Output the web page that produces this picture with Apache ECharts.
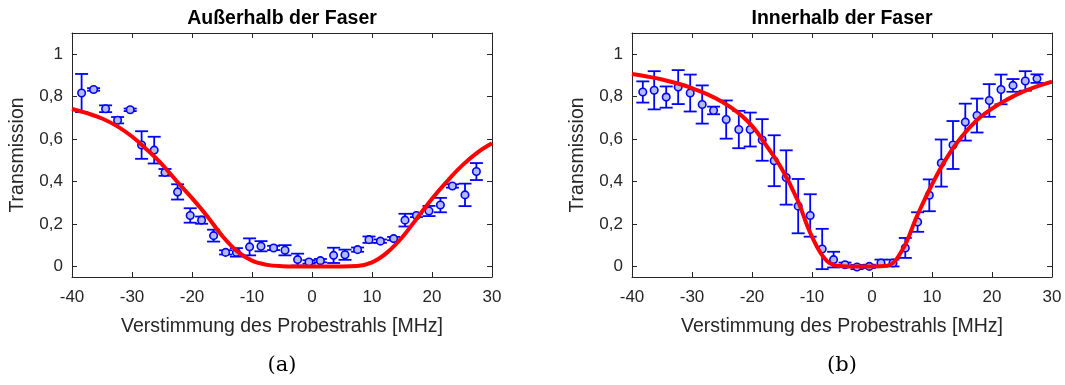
<!DOCTYPE html>
<html>
<head>
<meta charset="utf-8">
<script src="https://cdn.jsdelivr.net/npm/echarts@6/dist/echarts.min.js"></script>
<style>html,body{margin:0;padding:0;background:#fff}#c{width:1065px;height:385px}</style>
</head>
<body>
<div id="c"></div>
<script>
// ---- Data ----
const xTicks = [-40, -30, -20, -10, 0, 10, 20, 30];
const yTicks = [0, 0.2, 0.4, 0.6, 0.8, 1];

const leftTitle = 'Außerhalb der Faser';
const rightTitle = 'Innerhalb der Faser';
const xName = 'Verstimmung des Probestrahls [MHz]';
const yName = 'Transmission';
const captions = ['(a)', '(b)'];

const leftX = [-38.4,-36.4,-34.4,-32.4,-30.3,-28.4,-26.3,-24.5,-22.4,-20.3,-18.4,-16.4,-14.4,-12.6,-10.4,-8.5,-6.4,-4.5,-2.4,-0.5,1.4,3.6,5.5,7.6,9.5,11.4,13.6,15.5,17.4,19.5,21.4,23.4,25.5,27.4];
const leftY = [0.817,0.834,0.743,0.689,0.738,0.572,0.548,0.443,0.351,0.240,0.218,0.145,0.066,0.066,0.092,0.095,0.087,0.076,0.032,0.021,0.027,0.052,0.055,0.079,0.126,0.119,0.131,0.218,0.240,0.261,0.289,0.379,0.337,0.447];
const leftErr = [0.09,0.006,0.016,0.015,0.006,0.065,0.063,0.016,0.036,0.034,0.017,0.028,0.01,0.02,0.04,0.024,0.01,0.024,0.028,0.008,0.008,0.036,0.024,0.01,0.015,0.008,0.008,0.03,0.008,0.024,0.034,0.008,0.053,0.04];

const rightX = [-38.2,-36.3,-34.3,-32.3,-30.3,-28.3,-26.4,-24.3,-22.2,-20.3,-18.3,-16.3,-14.3,-12.3,-10.3,-8.3,-6.4,-4.5,-2.5,-0.45,1.5,3.5,5.55,7.6,9.55,11.55,13.5,15.55,17.5,19.55,21.5,23.5,25.55,27.5];
const rightY = [0.822,0.83,0.798,0.845,0.817,0.763,0.735,0.692,0.645,0.645,0.596,0.498,0.419,0.284,0.24,0.082,0.032,0.008,-0.003,0.0,0.016,0.016,0.087,0.209,0.335,0.487,0.572,0.68,0.711,0.782,0.834,0.853,0.874,0.885];
const rightErr = [0.05,0.09,0.05,0.08,0.087,0.09,0.018,0.09,0.088,0.08,0.098,0.12,0.128,0.128,0.1,0.095,0.037,0.01,0.01,0.008,0.016,0.016,0.047,0.046,0.075,0.111,0.113,0.087,0.08,0.077,0.07,0.03,0.046,0.02];

// fitted curves, every 2.5 MHz
const fitX = [-40,-37.5,-35,-32.5,-30,-27.5,-25,-22.5,-20,-17.5,-15,-12.5,-10,-7.5,-5,-2.5,0,2.5,5,7.5,10,12.5,15,17.5,20,22.5,25,27.5,30];
const leftFitY = [0.742,0.722,0.697,0.661,0.612,0.550,0.481,0.400,0.322,0.238,0.145,0.072,0.027,0.007,0.001,0,0,0,0,0.002,0.019,0.065,0.136,0.227,0.319,0.401,0.475,0.535,0.58];
const rightFitY = [0.907,0.895,0.881,0.863,0.840,0.812,0.776,0.728,0.662,0.565,0.458,0.318,0.14,0.025,0.001,0,0,0.003,0.075,0.237,0.386,0.514,0.613,0.69,0.744,0.786,0.821,0.848,0.871];

// ---- Chart ----
const chart = echarts.init(document.getElementById('c'), null, {renderer: 'canvas'});
const AX = '#262626';
const FONT = '"Liberation Sans", Arial, sans-serif';
const grids = [
  {left: 72, right: 573, top: 33, bottom: 108},
  {left: 632, right: 13, top: 33, bottom: 108}
];

function xAxisDef(gi, pos) {
  const main = pos === 'bottom';
  return {
    type: 'value', gridIndex: gi, position: pos, min: -40, max: 30, interval: 10,
    axisLine: {show: true, onZero: false, lineStyle: {color: AX, width: 1}},
    axisTick: {show: true, inside: true, length: 5, customValues: xTicks, lineStyle: {color: AX, width: 1}},
    axisLabel: {show: main, customValues: xTicks, color: AX, fontSize: 17, fontFamily: FONT, margin: 12},
    splitLine: {show: false},
    name: main ? xName : '', nameLocation: 'middle', nameGap: 40,
    nameTextStyle: {color: AX, fontSize: 19.5, fontFamily: FONT}
  };
}
function yAxisDef(gi, pos) {
  const main = pos === 'left';
  return {
    type: 'value', gridIndex: gi, position: pos, min: -0.05, max: 1.1,
    axisLine: {show: true, onZero: false, lineStyle: {color: AX, width: 1}},
    axisTick: {show: true, inside: true, length: 5, customValues: yTicks, lineStyle: {color: AX, width: 1}},
    axisLabel: {show: main, customValues: yTicks, color: AX, fontSize: 17, fontFamily: FONT, margin: 9,
      formatter: v => String(Math.round(v * 10) / 10).replace('.', ',')},
    splitLine: {show: false},
    name: main ? yName : '', nameLocation: 'middle', nameGap: 44,
    nameTextStyle: {color: AX, fontSize: 19.5, fontFamily: FONT}
  };
}

function errRender(params, api) {
  const x = api.value(0), y = api.value(1), e = api.value(2);
  const t = api.coord([x, y + e]);
  const b = api.coord([x, y - e]);
  const cw = 6.5;
  const st = {stroke: '#0000ff', lineWidth: 1.8, fill: null};
  return {type: 'group', children: [
    {type: 'line', shape: {x1: t[0], y1: t[1], x2: b[0], y2: b[1]}, style: st},
    {type: 'line', shape: {x1: t[0] - cw, y1: t[1], x2: t[0] + cw, y2: t[1]}, style: st},
    {type: 'line', shape: {x1: b[0] - cw, y1: b[1], x2: b[0] + cw, y2: b[1]}, style: st}
  ]};
}

function seriesFor(ai, xs, ys, es, fx, fy) {
  return [
    {type: 'custom', xAxisIndex: ai, yAxisIndex: ai, renderItem: errRender, z: 2,
      encode: {x: 0, y: 1}, data: xs.map((x, i) => [x, ys[i], es[i]]), silent: true},
    {type: 'scatter', xAxisIndex: ai, yAxisIndex: ai, z: 3, symbol: 'circle', symbolSize: 7.5,
      itemStyle: {color: '#b4bced', borderColor: '#0000ff', borderWidth: 1.6, opacity: 1},
      data: xs.map((x, i) => [x, ys[i]]), silent: true},
    {type: 'line', xAxisIndex: ai, yAxisIndex: ai, z: 4, showSymbol: false, smooth: 0.4,
      lineStyle: {color: '#ff0000', width: 4}, silent: true,
      data: fx.map((x, i) => [x, fy[i]])}
  ];
}

const centers = [72 + (492 - 72) / 2, 632 + (1052 - 632) / 2];
const titleFont = 'bold 19.5px ' + FONT;
const capFont = '21px "DejaVu Serif", "Liberation Serif", serif';

const option = {
  animation: false,
  backgroundColor: '#ffffff',
  grid: grids,
  xAxis: [xAxisDef(0, 'bottom'), xAxisDef(0, 'top'), xAxisDef(1, 'bottom'), xAxisDef(1, 'top')],
  yAxis: [yAxisDef(0, 'left'), yAxisDef(0, 'right'), yAxisDef(1, 'left'), yAxisDef(1, 'right')],
  series: [
    ...seriesFor(0, leftX, leftY, leftErr, fitX, leftFitY),
    ...seriesFor(2, rightX, rightY, rightErr, fitX, rightFitY)
  ],
  graphic: [
    {type: 'text', silent: true, style: {x: centers[0], y: 19, text: leftTitle, textAlign: 'center', textVerticalAlign: 'middle', font: titleFont, fill: '#000'}},
    {type: 'text', silent: true, style: {x: centers[1], y: 19, text: rightTitle, textAlign: 'center', textVerticalAlign: 'middle', font: titleFont, fill: '#000'}},
    {type: 'text', silent: true, style: {x: centers[0], y: 366, text: captions[0], textAlign: 'center', textVerticalAlign: 'middle', font: capFont, fill: '#000'}},
    {type: 'text', silent: true, style: {x: centers[1], y: 366, text: captions[1], textAlign: 'center', textVerticalAlign: 'middle', font: capFont, fill: '#000'}}
  ]
};
chart.setOption(option);
</script>
</body>
</html>
